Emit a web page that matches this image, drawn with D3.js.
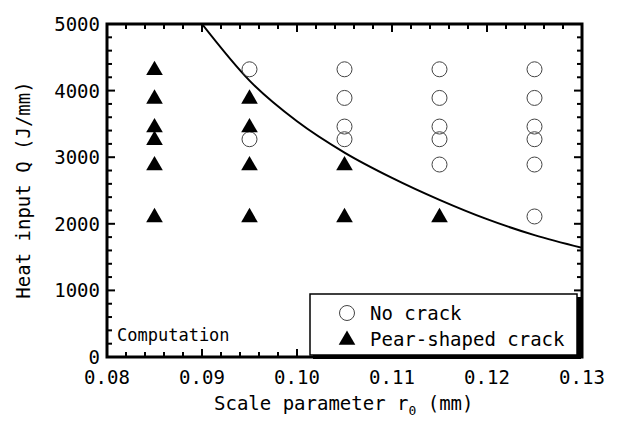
<!DOCTYPE html>
<html>
<head>
<meta charset="utf-8">
<script src="https://cdn.jsdelivr.net/npm/d3@7"></script>
<style>
  body { margin: 0; background: #fff; }
  text { font-family: "DejaVu Sans Mono", "Liberation Mono", monospace; fill: #000; }
</style>
</head>
<body>
<svg id="chart" width="619" height="422"></svg>
<script>
// scale parameter r0 (mm) and heat input Q (J/mm)
const noCrackR = [0.095, 0.095, 0.105, 0.105, 0.105, 0.105, 0.115, 0.115, 0.115, 0.115, 0.115, 0.125, 0.125, 0.125, 0.125, 0.125, 0.125];
const noCrackQ = [4320, 3270, 4320, 3890, 3460, 3270, 4320, 3890, 3460, 3270, 2890, 4320, 3890, 3460, 3270, 2890, 2110];
const crackR = [0.085, 0.085, 0.085, 0.085, 0.085, 0.085, 0.095, 0.095, 0.095, 0.095, 0.105, 0.105, 0.115];
const crackQ = [4320, 3890, 3460, 3270, 2890, 2110, 3890, 3460, 2890, 2110, 2890, 2110, 2110];
// boundary curve
const curveR = [0.090, 0.095, 0.100, 0.105, 0.110, 0.115, 0.120, 0.125, 0.130];
const curveQ = [5000, 4150, 3540, 3070, 2690, 2360, 2070, 1830, 1640];
const xTicks = [0.08, 0.09, 0.10, 0.11, 0.12, 0.13];
const yTicks = [0, 1000, 2000, 3000, 4000, 5000];

const svg = d3.select("#chart");
const pLeft = 107, pRight = 582, pTop = 24, pBottom = 357;

const x = d3.scaleLinear().domain([0.08, 0.13]).range([pLeft, pRight]);
const y = d3.scaleLinear().domain([0, 5000]).range([pBottom, pTop]);

svg.append("clipPath").attr("id", "clip")
  .append("rect").attr("x", pLeft).attr("y", pTop)
  .attr("width", pRight - pLeft).attr("height", pBottom - pTop);

// boundary curve
const line = d3.line()
  .x((d, i) => x(curveR[i]))
  .y((d, i) => y(curveQ[i]))
  .curve(d3.curveMonotoneX);
svg.append("path")
  .attr("d", line(curveR))
  .attr("clip-path", "url(#clip)")
  .attr("fill", "none")
  .attr("stroke", "#000")
  .attr("stroke-width", 2);

// no crack circles
svg.selectAll(".nc").data(noCrackR).enter().append("circle")
  .attr("cx", (d) => x(d))
  .attr("cy", (d, i) => y(noCrackQ[i]))
  .attr("r", 7.5)
  .attr("fill", "none")
  .attr("stroke", "#444")
  .attr("stroke-width", 1);

// pear-shaped crack triangles
const tri = d3.symbol().type(d3.symbolTriangle).size(120);
svg.selectAll(".pc").data(crackR).enter().append("path")
  .attr("d", tri)
  .attr("transform", (d, i) => `translate(${x(d)},${y(crackQ[i]) + 1})`)
  .attr("fill", "#000");

// axes: ticks inward on all sides
const xMinor = d3.range(0, 26).map((i) => 0.08 + i * 0.002);
const yMinor = d3.range(0, 26).map((i) => i * 200);

function isMajor(v, step) {
  return Math.abs(v / step - Math.round(v / step)) < 1e-6;
}

svg.append("g")
  .selectAll("line").data(xMinor).enter().append("line")
  .attr("x1", (d) => x(d)).attr("x2", (d) => x(d))
  .attr("y1", pBottom).attr("y2", (d) => pBottom - (isMajor(d - 0.08, 0.01) ? 8 : 5))
  .attr("stroke", "#000").attr("stroke-width", 2);
svg.append("g")
  .selectAll("line").data(xMinor).enter().append("line")
  .attr("x1", (d) => x(d)).attr("x2", (d) => x(d))
  .attr("y1", pTop).attr("y2", (d) => pTop + (isMajor(d - 0.08, 0.01) ? 8 : 5))
  .attr("stroke", "#000").attr("stroke-width", 2);
svg.append("g")
  .selectAll("line").data(yMinor).enter().append("line")
  .attr("y1", (d) => y(d)).attr("y2", (d) => y(d))
  .attr("x1", pLeft).attr("x2", (d) => pLeft + (isMajor(d, 1000) ? 8 : 5))
  .attr("stroke", "#000").attr("stroke-width", 2);
svg.append("g")
  .selectAll("line").data(yMinor).enter().append("line")
  .attr("y1", (d) => y(d)).attr("y2", (d) => y(d))
  .attr("x1", pRight).attr("x2", (d) => pRight - (isMajor(d, 1000) ? 8 : 5))
  .attr("stroke", "#000").attr("stroke-width", 2);

// frame
svg.append("rect")
  .attr("x", pLeft).attr("y", pTop)
  .attr("width", pRight - pLeft).attr("height", pBottom - pTop)
  .attr("fill", "none").attr("stroke", "#000").attr("stroke-width", 3);

// tick labels
svg.append("g").selectAll("text").data(xTicks).enter().append("text")
  .attr("x", (d) => x(d))
  .attr("y", 384)
  .attr("text-anchor", "middle")
  .style("font-size", "19px")
  .text((d) => d.toFixed(2));
svg.append("g").selectAll("text").data(yTicks).enter().append("text")
  .attr("x", 100)
  .attr("y", (d) => y(d) + 7)
  .attr("text-anchor", "end")
  .style("font-size", "19px")
  .text((d) => d);

// axis titles
const xt = svg.append("text")
  .attr("x", 214).attr("y", 410)
  .style("font-size", "19px");
xt.append("tspan").text("Scale parameter r");
xt.append("tspan").attr("dy", 5).style("font-size", "13px").text("0");
xt.append("tspan").attr("dy", -5).text(" (mm)");

svg.append("text")
  .attr("transform", "translate(30,190) rotate(-90)")
  .attr("text-anchor", "middle")
  .style("font-size", "19px")
  .text("Heat input Q (J/mm)");

svg.append("text")
  .attr("x", 117).attr("y", 341)
  .style("font-size", "17px")
  .text("Computation");

// legend
const lg = svg.append("g");
lg.append("rect").attr("x", 313).attr("y", 297).attr("width", 268).attr("height", 62).attr("fill", "#000");
lg.append("rect").attr("x", 310).attr("y", 294).attr("width", 267).attr("height", 61)
  .attr("fill", "#fff").attr("stroke", "#000").attr("stroke-width", 1.5);
lg.append("circle").attr("cx", 347).attr("cy", 313).attr("r", 7.5)
  .attr("fill", "none").attr("stroke", "#444").attr("stroke-width", 1);
lg.append("path").attr("d", tri).attr("transform", "translate(347,340)").attr("fill", "#000");
lg.append("text").attr("x", 370).attr("y", 320).style("font-size", "19px").text("No crack");
lg.append("text").attr("x", 370).attr("y", 346).style("font-size", "19px").text("Pear-shaped crack");
</script>
</body>
</html>
